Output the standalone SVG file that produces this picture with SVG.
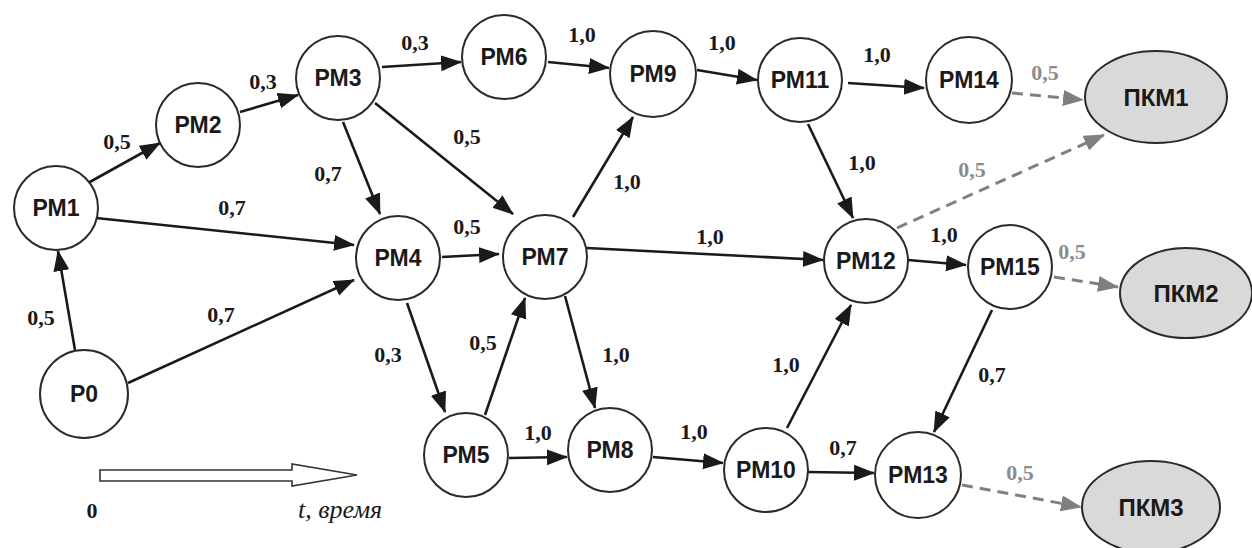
<svg xmlns="http://www.w3.org/2000/svg" width="1252" height="548" viewBox="0 0 1252 548">
<defs>
<style>
.n{fill:#fff;stroke:#2a2a2a;stroke-width:2}
.k{fill:#d9d9d9;stroke:#2a2a2a;stroke-width:2}
.nt{font-family:"Liberation Sans",Arial,sans-serif;font-weight:bold;font-size:23px;fill:#1a1a1a;text-anchor:middle}
.kt{font-family:"Liberation Sans",Arial,sans-serif;font-weight:bold;font-size:24px;fill:#1a1a1a;text-anchor:middle}
.e{stroke:#1a1a1a;stroke-width:2.6;fill:none;marker-end:url(#ah)}
.d{stroke:#808080;stroke-width:3;fill:none;stroke-dasharray:11 7;marker-end:url(#ag)}
.l{font-family:"Liberation Serif","Times New Roman",serif;font-weight:bold;font-size:22px;fill:#1a1a1a;text-anchor:middle}
.g{fill:#8c8c8c}
</style>
<marker id="ah" markerUnits="userSpaceOnUse" markerWidth="22" markerHeight="18" refX="20" refY="8" orient="auto">
<path d="M0,0 L21,8 L0,16 Z" fill="#1a1a1a"/>
</marker>
<marker id="ag" markerUnits="userSpaceOnUse" markerWidth="22" markerHeight="18" refX="20" refY="8" orient="auto">
<path d="M0,0 L21,8 L0,16 Z" fill="#7f7f7f"/>
</marker>
</defs>
<rect width="1252" height="548" fill="#fff"/>

<g id="connectors">
<line class="e" x1="75" y1="350" x2="58" y2="251"/>
<line class="e" x1="128" y1="383" x2="354" y2="280"/>
<line class="e" x1="88" y1="183" x2="160" y2="143"/>
<line class="e" x1="240" y1="112" x2="298" y2="95"/>
<line class="e" x1="96" y1="218" x2="354" y2="245"/>
<line class="e" x1="343" y1="122" x2="380" y2="214"/>
<line class="e" x1="382" y1="67" x2="461" y2="62"/>
<line class="e" x1="375" y1="103" x2="513" y2="214"/>
<line class="e" x1="442" y1="257" x2="499" y2="254"/>
<line class="e" x1="548" y1="62" x2="609" y2="68"/>
<line class="e" x1="697" y1="70" x2="757" y2="80"/>
<line class="e" x1="573" y1="217" x2="633" y2="117"/>
<line class="e" x1="587" y1="248" x2="823" y2="260"/>
<line class="e" x1="848" y1="83" x2="924" y2="88"/>
<line class="e" x1="808" y1="124" x2="853" y2="218"/>
<line class="e" x1="908" y1="260" x2="966" y2="265"/>
<line class="e" x1="407" y1="303" x2="445" y2="412"/>
<line class="e" x1="485" y1="415" x2="525" y2="298"/>
<line class="e" x1="565" y1="296" x2="595" y2="408"/>
<line class="e" x1="509" y1="458" x2="567" y2="457"/>
<line class="e" x1="653" y1="457" x2="723" y2="463"/>
<line class="e" x1="787" y1="428" x2="851" y2="305"/>
<line class="e" x1="808" y1="472" x2="874" y2="473"/>
<line class="e" x1="992" y1="310" x2="934" y2="432"/>
<line class="d" x1="1012" y1="93" x2="1083" y2="100"/>
<line class="d" x1="897" y1="228" x2="1104" y2="135"/>
<line class="d" x1="1054" y1="277" x2="1118" y2="287"/>
<line class="d" x1="962" y1="485" x2="1081" y2="507"/>
</g>

<g id="edge-labels">
<text class="l" x="41" y="325">0,5</text>
<text class="l" x="221" y="322">0,7</text>
<text class="l" x="117" y="149">0,5</text>
<text class="l" x="263" y="89">0,3</text>
<text class="l" x="232" y="215">0,7</text>
<text class="l" x="328" y="181">0,7</text>
<text class="l" x="415" y="50">0,3</text>
<text class="l" x="467" y="144">0,5</text>
<text class="l" x="467" y="234">0,5</text>
<text class="l" x="582" y="42">1,0</text>
<text class="l" x="722" y="50">1,0</text>
<text class="l" x="627" y="189">1,0</text>
<text class="l" x="710" y="244">1,0</text>
<text class="l" x="877" y="62">1,0</text>
<text class="l g" x="1045" y="80">0,5</text>
<text class="l" x="862" y="170">1,0</text>
<text class="l g" x="972" y="177">0,5</text>
<text class="l" x="944" y="242">1,0</text>
<text class="l g" x="1072" y="259">0,5</text>
<text class="l" x="992" y="382">0,7</text>
<text class="l" x="388" y="362">0,3</text>
<text class="l" x="483" y="350">0,5</text>
<text class="l" x="616" y="362">1,0</text>
<text class="l" x="538" y="440">1,0</text>
<text class="l" x="694" y="439">1,0</text>
<text class="l" x="786" y="372">1,0</text>
<text class="l" x="843" y="455">0,7</text>
<text class="l g" x="1020" y="480">0,5</text>
</g>

<g id="P0"><circle class="n" cx="84" cy="394" r="44"/><text class="nt" x="84" y="402">Р0</text></g>
<g id="PM1"><circle class="n" cx="56" cy="208" r="42"/><text class="nt" x="56" y="216">РМ1</text></g>
<g id="PM2"><circle class="n" cx="198" cy="125" r="42"/><text class="nt" x="198" y="133">РМ2</text></g>
<g id="PM3"><circle class="n" cx="338" cy="78" r="42"/><text class="nt" x="338" y="86">РМ3</text></g>
<g id="PM4"><circle class="n" cx="398" cy="258" r="42"/><text class="nt" x="398" y="266">РМ4</text></g>
<g id="PM5"><circle class="n" cx="466" cy="455" r="42"/><text class="nt" x="466" y="463">РМ5</text></g>
<g id="PM6"><circle class="n" cx="504" cy="57" r="42"/><text class="nt" x="504" y="65">РМ6</text></g>
<g id="PM7"><circle class="n" cx="545" cy="257" r="42"/><text class="nt" x="545" y="265">РМ7</text></g>
<g id="PM8"><circle class="n" cx="610" cy="450" r="42"/><text class="nt" x="610" y="458">РМ8</text></g>
<g id="PM9"><circle class="n" cx="653" cy="74" r="43"/><text class="nt" x="653" y="82">РМ9</text></g>
<g id="PM10"><circle class="n" cx="766" cy="470" r="42"/><text class="nt" x="766" y="478">РМ10</text></g>
<g id="PM11"><circle class="n" cx="800" cy="80" r="42"/><text class="nt" x="800" y="88">РМ11</text></g>
<g id="PM12"><circle class="n" cx="866" cy="261" r="42"/><text class="nt" x="866" y="269">РМ12</text></g>
<g id="PM13"><circle class="n" cx="918" cy="475" r="43"/><text class="nt" x="918" y="483">РМ13</text></g>
<g id="PM14"><circle class="n" cx="969" cy="80" r="43"/><text class="nt" x="969" y="88">РМ14</text></g>
<g id="PM15"><circle class="n" cx="1010" cy="267" r="42"/><text class="nt" x="1010" y="275">РМ15</text></g>
<g id="PKM1"><ellipse class="k" cx="1156" cy="97" rx="71" ry="46"/><text class="kt" x="1156" y="106">ПКМ1</text></g>
<g id="PKM2"><ellipse class="k" cx="1186" cy="293" rx="66" ry="45"/><text class="kt" x="1186" y="302">ПКМ2</text></g>
<g id="PKM3"><ellipse class="k" cx="1151" cy="507" rx="69" ry="46"/><text class="kt" x="1151" y="516">ПКМ3</text></g>

<g id="time-axis">
<path d="M100,470 L292,470 L292,464 L357,475 L292,486 L292,481 L100,481 Z" fill="#fff" stroke="#333" stroke-width="1.6"/>
<text x="92" y="518" font-family="'Liberation Serif','Times New Roman',serif" font-weight="bold" font-size="22" fill="#1a1a1a" text-anchor="middle">0</text>
<text x="298" y="518" font-family="'Liberation Serif','Times New Roman',serif" font-style="italic" font-size="26" fill="#1a1a1a">t, время</text>
</g>
</svg>
